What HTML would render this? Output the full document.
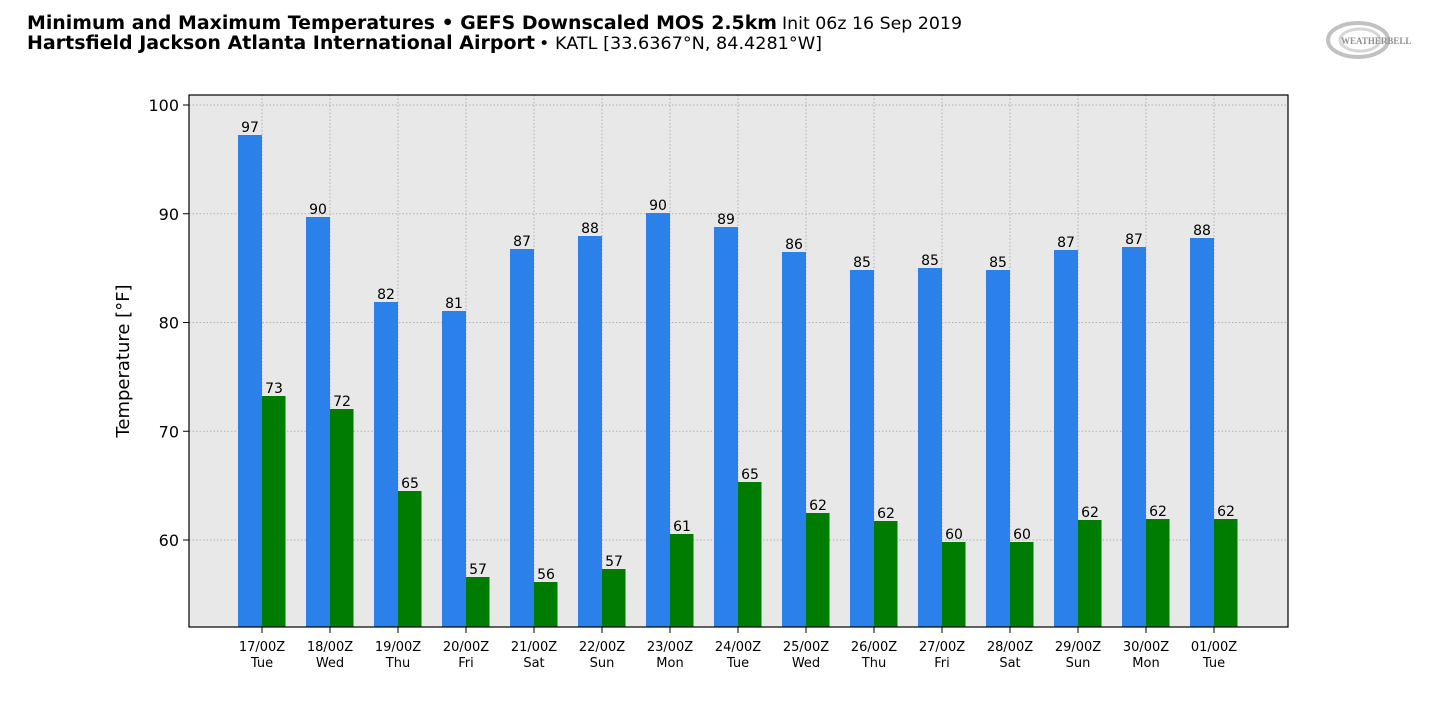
<!DOCTYPE html>
<html><head><meta charset="utf-8"><style>
body{margin:0;background:#fff;width:1440px;height:714px;overflow:hidden}
svg{display:block;font-family:"DejaVu Sans","Liberation Sans",sans-serif}
</style></head><body>
<svg width="1440" height="714" xmlns="http://www.w3.org/2000/svg">
<text x="27" y="29" font-size="18.5" font-weight="bold" fill="#000" textLength="750" lengthAdjust="spacingAndGlyphs">Minimum and Maximum Temperatures • GEFS Downscaled MOS 2.5km</text>
<text x="782" y="29" font-size="17" fill="#000" textLength="180" lengthAdjust="spacingAndGlyphs">Init 06z 16 Sep 2019</text>
<text x="27" y="49" font-size="18.5" font-weight="bold" fill="#000" textLength="508" lengthAdjust="spacingAndGlyphs">Hartsfield Jackson Atlanta International Airport</text>
<text x="539" y="49" font-size="17" fill="#000" textLength="283" lengthAdjust="spacingAndGlyphs">• KATL [33.6367°N, 84.4281°W]</text>
<g opacity="0.6">
<ellipse cx="1358" cy="40" rx="30" ry="17" fill="none" stroke="#999" stroke-width="4"/>
<ellipse cx="1360" cy="40" rx="20" ry="11" fill="none" stroke="#bbb" stroke-width="3"/>
<text x="1341" y="44" font-size="9" font-weight="bold" fill="#444" font-family="Liberation Serif,serif">WEATHERBELL</text>
</g>
<rect x="189" y="95" width="1099" height="532" fill="#e8e8e8"/>
<g id="grid" stroke="#b0b0b0" stroke-dasharray="1.5,2" stroke-width="1"></g>
<g id="bars"></g>
<rect x="189" y="95" width="1099" height="532" fill="none" stroke="#000" stroke-width="1.2"/>
<g id="yt" font-size="16" text-anchor="end"></g>
<g id="xt" font-size="13" text-anchor="middle"></g>
<text transform="translate(129,361) rotate(-90)" font-size="18" text-anchor="middle">Temperature [°F]</text>
</svg>
<script>
const ns="http://www.w3.org/2000/svg";
function el(p,t,a,txt){const e=document.createElementNS(ns,t);for(const k in a)e.setAttribute(k,a[k]);if(txt!=null)e.textContent=txt;document.getElementById(p).appendChild(e);}
const Y=v=>540-(v-60)*10.875;
[60,70,80,90,100].forEach(v=>{const y=Y(v);el('grid','line',{x1:189,x2:1288,y1:y,y2:y});el('yt','line',{x1:183,x2:189,y1:y,y2:y,stroke:'#000'});el('yt','text',{x:179,y:y+6},v);});
const hi=[135,217,302,311,249,236,213,227,252,270,268,270,250,247,238];
const lo=[396,409,491,577,582,569,534,482,513,521,542,542,520,519,519];
const hl=[97,90,82,81,87,88,90,89,86,85,85,85,87,87,88];
const ll=[73,72,65,57,56,57,61,65,62,62,60,60,62,62,62];
const d=["17/00Z","18/00Z","19/00Z","20/00Z","21/00Z","22/00Z","23/00Z","24/00Z","25/00Z","26/00Z","27/00Z","28/00Z","29/00Z","30/00Z","01/00Z"];
const w=["Tue","Wed","Thu","Fri","Sat","Sun","Mon","Tue","Wed","Thu","Fri","Sat","Sun","Mon","Tue"];
for(let i=0;i<15;i++){const c=262+i*68;
el('grid','line',{x1:c,x2:c,y1:95,y2:627});
el('bars','rect',{x:c-24,y:hi[i],width:24,height:627-hi[i],fill:'#2b80ea'});
el('bars','rect',{x:c,y:lo[i],width:23.5,height:627-lo[i],fill:'#007c00'});
el('bars','text',{x:c-12,y:hi[i]-3,'font-size':14,'text-anchor':'middle'},hl[i]);
el('bars','text',{x:c+12,y:lo[i]-3,'font-size':14,'text-anchor':'middle'},ll[i]);
el('xt','line',{x1:c,x2:c,y1:627,y2:633,stroke:'#000'});
el('xt','text',{x:c,y:651},d[i]);el('xt','text',{x:c,y:667},w[i]);}
</script>
</body></html>
